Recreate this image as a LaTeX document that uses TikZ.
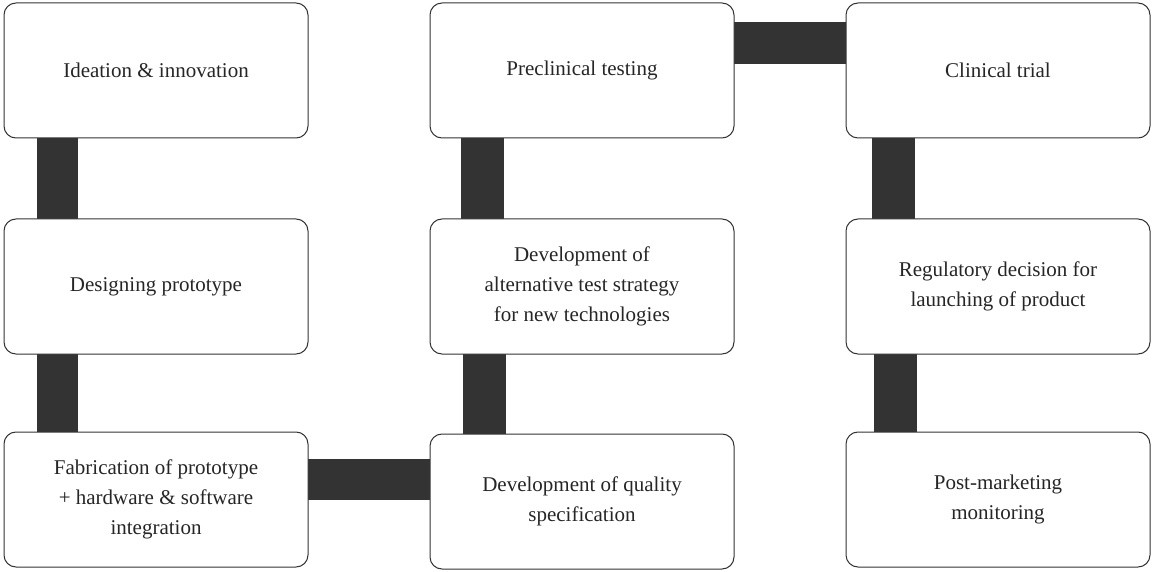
\documentclass[tikz,border=0pt]{standalone}
\usepackage{fontspec}
\setmainfont{Liberation Serif}
\begin{document}
\begin{tikzpicture}[x=1pt,y=-1pt,
  box/.style={draw=black!80,line width=1pt,rounded corners=12pt,minimum width=304pt,minimum height=135pt,align=center,font=\fontsize{21}{30}\selectfont,text=black!85,inner sep=0pt},
  bar/.style={draw=none,fill=black!80}]
\useasboundingbox (0,0) rectangle (1152,572);
\fill[bar] (37,136) rectangle (78,221);
\fill[bar] (37,352) rectangle (78,434);
\fill[bar] (306,459) rectangle (432,500);
\fill[bar] (461,136) rectangle (504,221);
\fill[bar] (463,352) rectangle (506,436);
\fill[bar] (732,22) rectangle (848,64);
\fill[bar] (872,136) rectangle (915,221);
\fill[bar] (874,352) rectangle (917,434);
\node[box,fill=white] (a1) at (156,70.5) {Ideation \& innovation};
\node[box,fill=white] (a2) at (156,286.5) {Designing prototype};
\node[box,fill=white] (a3) at (156,499.5) {Fabrication of prototype\\+ hardware \& software\\integration};
\node[box,fill=white] (b1) at (582,70.5) {Preclinical testing};
\node[box,fill=white] (b2) at (582,286.5) {Development of\\alternative test strategy\\for new technologies};
\node[box,fill=white] (b3) at (582,501.5) {Development of quality\\specification};
\node[box,fill=white] (c1) at (998,70.5) {Clinical trial};
\node[box,fill=white] (c2) at (998,286.5) {Regulatory decision for\\launching of product};
\node[box,fill=white] (c3) at (998,499.5) {Post-marketing\\monitoring};
\end{tikzpicture}
\end{document}
